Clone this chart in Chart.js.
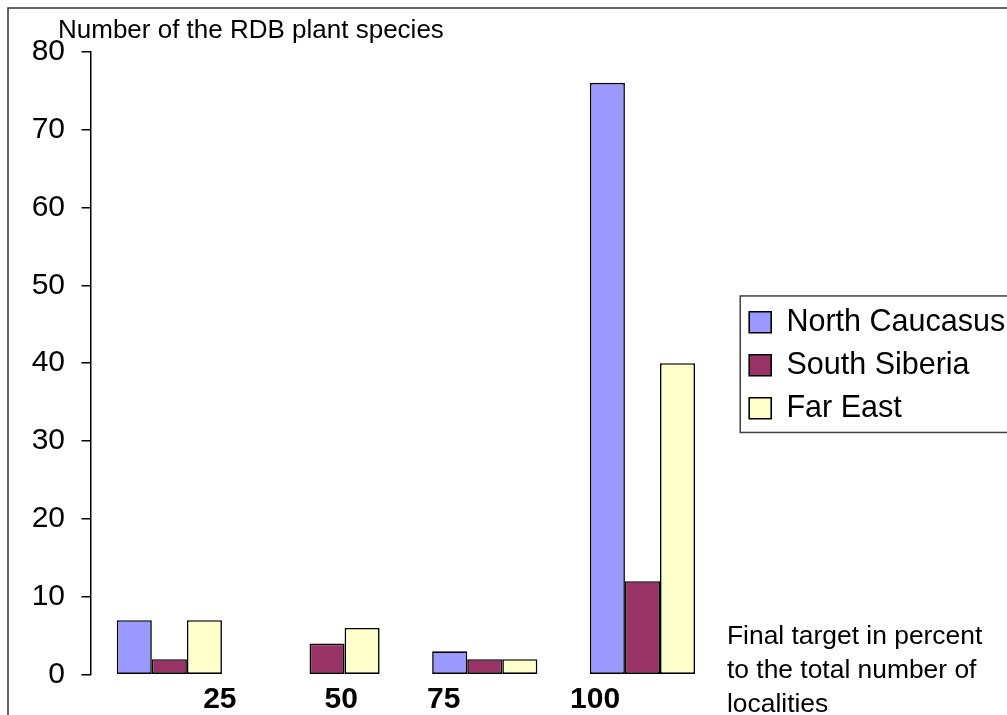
<!DOCTYPE html>
<html>
<head>
<meta charset="utf-8">
<script src="https://cdn.jsdelivr.net/npm/chart.js@4.4.1/dist/chart.umd.min.js"></script>
<style>
  html, body { margin: 0; padding: 0; background: #ffffff; }
  #wrap { width: 1007px; height: 715px; }
</style>
</head>
<body>
<div id="wrap"><canvas id="chart" width="1007" height="715"></canvas></div>
<script>
// Final target (percent of localities) groups
const categories = ['25', '50', '75', '100'];
// Number of Red Data Book plant species per region
const northCaucasus = [7, 0, 3, 76];
const southSiberia = [2, 4, 2, 12];
const farEast = [7, 6, 2, 40];
// Value axis
const yMin = 0;
const yMax = 80;
const yStep = 10;

const yTitle = 'Number of the RDB plant species';
const xTitleLines = ['Final target in percent', 'to the total number of', 'localities'];

// Category labels sit a little off their group centres (in category units)
const labelShift = [0.32, 0.09, -0.26, -0.30];

const FONT = "'Liberation Sans', Arial, sans-serif";

// Frame, axis captions and the legend border
const decorations = {
  id: 'decorations',
  afterLayout(chart) {
    // legend: a gap from the plot, room for the labels, centred on the plot area
    const lg = chart.legend;
    const ca = chart.chartArea;
    if (lg) {
      lg.left += 15.4;
      lg.width = chart.width - lg.left + 20;
      lg.right = lg.left + lg.width;
      lg.top = ca.top + 2; lg.bottom = ca.bottom + 2; lg.height = ca.bottom - ca.top;
    }
  },
  beforeDraw(chart) {
    const ctx = chart.ctx;
    ctx.save();
    ctx.fillStyle = '#ffffff';
    ctx.fillRect(0, 0, chart.width, chart.height);
    ctx.strokeStyle = '#333333';
    ctx.lineWidth = 1.5;
    ctx.strokeRect(8, 8, chart.width + 20, chart.height + 20);
    ctx.restore();
  },
  afterDraw(chart) {
    const ctx = chart.ctx;
    ctx.save();
    ctx.fillStyle = '#000000';
    ctx.textAlign = 'left';
    ctx.textBaseline = 'alphabetic';
    ctx.font = '26px ' + FONT;
    ctx.fillText(yTitle, 58, 38);
    ctx.font = '26.4px ' + FONT;
    xTitleLines.forEach((t, i) => ctx.fillText(t, 727, 644 + i * 34));

    const hb = chart.legend && chart.legend.legendHitBoxes;
    if (hb && hb.length) {
      const first = hb[0], last = hb[hb.length - 1];
      const x0 = first.left - 9;
      const y0 = first.top - 11;
      const y1 = last.top + last.height + 9;
      ctx.strokeStyle = '#404040';
      ctx.lineWidth = 1.5;
      ctx.strokeRect(x0, y0, chart.width - x0 + 20, y1 - y0);
    }
    ctx.restore();
  }
};

const barStyle = {
  borderColor: '#000000',
  borderWidth: 1.6,
  borderSkipped: false,
  inflateAmount: 0,
  categoryPercentage: 0.667,
  barPercentage: 1.0
};

new Chart(document.getElementById('chart'), {
  type: 'bar',
  data: {
    labels: categories,
    datasets: [
      Object.assign({ label: 'North Caucasus', data: northCaucasus, backgroundColor: '#9999FF' }, barStyle),
      Object.assign({ label: 'South Siberia', data: southSiberia, backgroundColor: '#993366' }, barStyle),
      Object.assign({ label: 'Far East', data: farEast, backgroundColor: '#FFFFCC' }, barStyle)
    ]
  },
  options: {
    responsive: false,
    animation: false,
    devicePixelRatio: 1,
    layout: { padding: { left: 0, top: 51.7, right: 55.7, bottom: 0 } },
    scales: {
      x: {
        type: 'category',
        display: false,
        offset: true
      },
      xLabels: {
        type: 'linear',
        position: 'bottom',
        offset: false,
        min: -0.5,
        max: categories.length - 0.5,
        grid: { display: false, drawTicks: false, offset: false },
        border: { display: false },
        afterBuildTicks(scale) {
          scale.ticks = categories.map((c, i) => ({ value: i + labelShift[i] }));
        },
        afterFit(scale) { scale.height = 40.3; },
        ticks: {
          autoSkip: false,
          maxRotation: 0,
          padding: 7.3,
          color: '#000000',
          font: { family: FONT, size: 30, weight: 'bold' },
          callback: (v, i) => categories[i]
        }
      },
      y: {
        min: yMin,
        max: yMax,
        afterFit(scale) { scale.width = 90.5; },
        ticks: {
          stepSize: yStep,
          padding: 16.5,
          color: '#000000',
          font: { family: FONT, size: 30 }
        },
        grid: {
          drawOnChartArea: false,
          drawTicks: true,
          tickLength: 9,
          tickColor: '#000000',
          lineWidth: 1.5
        },
        border: { display: true, color: '#000000', width: 1.5 }
      }
    },
    plugins: {
      legend: {
        position: 'right',
        align: 'center',
        maxWidth: 230,
        labels: {
          boxWidth: 22,
          boxHeight: 21,
          padding: 12.5,
          color: '#000000',
          font: { family: FONT, size: 30.5 }
        }
      },
      title: { display: false },
      tooltip: { enabled: false }
    }
  },
  plugins: [decorations]
});
</script>
</body>
</html>
